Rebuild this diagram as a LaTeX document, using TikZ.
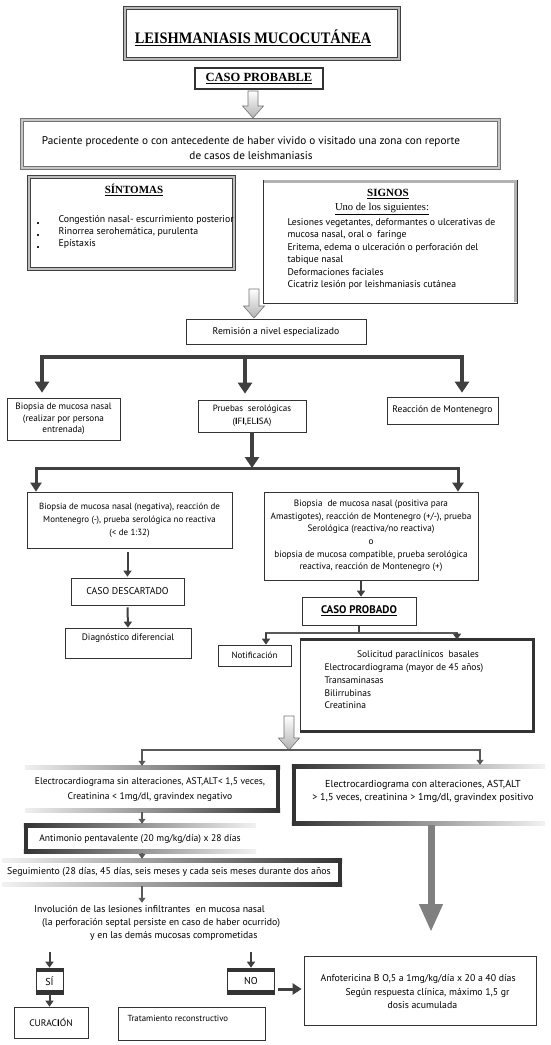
\documentclass[tikz,border=0pt]{standalone}
\usepackage{fontspec}
\usepackage{graphicx}
\setmainfont{PT Sans}
\newfontfamily\serifb{Liberation Serif}
\usetikzlibrary{arrows.meta,calc}
\newcommand\harrow[3]{\draw[hollow] ({#1-5},#2) -- ({#1+5},#2) -- ({#1+5},{#3-12}) -- ({#1+10.5},{#3-12}) -- (#1,#3) -- ({#1-10.5},{#3-12}) -- ({#1-5},{#3-12}) -- cycle;}
\begin{document}
\begin{tikzpicture}[x=1pt,y=-1pt,
 box/.style={draw=black!80, line width=0.7pt, inner sep=0pt, align=center},
 plain/.style={inner sep=0pt},
 bigarr/.style={draw=black!75, line width=3.5pt, -{Triangle[width=14pt,length=11pt]}},
 midarr/.style={draw=black!75, line width=3pt, -{Triangle[width=11pt,length=9pt]}},
 bar/.style={draw=black!75, line width=3.5pt, line cap=rect},
 bar2/.style={draw=black!75, line width=3pt, line cap=rect},
 medarr/.style={draw=black!75, line width=2pt, -{Triangle[width=8pt,length=6pt]}},
 thinbar/.style={draw=black!65, line width=1.6pt, line cap=rect},
 thinarr/.style={draw=black!65, line width=1.6pt, -{Triangle[width=7pt,length=5pt]}},
 hollow/.style={draw=black!55, line width=0.6pt, top color=white, bottom color=gray!60},
 dk/.style={fill=black!80},
]
\useasboundingbox[fill=white] (0,0) rectangle (551,1045);

% title
\node[draw=black!75, line width=1.2pt, double=gray!55, double distance=1.6pt, minimum width=274pt, minimum height=51pt, inner sep=0pt] (title) at (262,33.5) {};
\node[font=\serifb\bfseries\fontsize{16}{16}\selectfont] (titletxt) at (253,38) {\scalebox{0.9}[1]{\underline{LEISHMANIASIS MUCOCUTÁNEA}}};

\node[box, line width=1.8pt, minimum width=128pt, minimum height=21pt, font=\serifb\bfseries\fontsize{12.5}{13}\selectfont] (probable) at (259,78.5) {\underline{CASO PROBABLE}};
\harrow{253}{91}{118}

\node[draw=black!55, line width=0.8pt, double=gray!45, double distance=1.8pt, minimum width=477pt, minimum height=48pt, inner sep=0pt] (paciente) at (260.5,144) {};
\node[font=\fontsize{11.2}{15.5}\selectfont, align=center] (pactxt) at (251,148) {Paciente procedente o con antecedente de haber vivido o visitado una zona con reporte\\de casos de leishmaniasis};

% sintomas
\node[draw=black!75, line width=0.9pt, double=gray!50, double distance=1.4pt, minimum width=205pt, minimum height=92pt, inner sep=0pt] (sintomas) at (131.5,223) {};
\node[font=\serifb\bfseries\fontsize{11}{12}\selectfont] (sintit) at (134,190) {\underline{SÍNTOMAS}};
\node[font=\fontsize{9.8}{12}\selectfont, anchor=west, align=left] (sinitems) at (55,232) {Congestión nasal- escurrimiento posterior\\Rinorrea serohemática, purulenta\\Epístaxis};
\foreach \yy in {222,234,246} \fill[black!85] (37,\yy) rectangle (39,{\yy+2});

% signos
\node[box, minimum width=254pt, minimum height=123pt] (signos) at (390,241.5) {};
\draw[gray!60, line width=3pt] ([xshift=1pt,yshift=-2pt]signos.north west) -- ([xshift=-2pt,yshift=-2pt]signos.north east) -- ([xshift=-2pt,yshift=1pt]signos.south east);
\node[font=\serifb\bfseries\fontsize{11}{12}\selectfont] (sigtit) at (388,194) {\underline{SIGNOS}};
\node[font=\serifb\fontsize{10.6}{12}\selectfont] (siguno) at (382,209) {\underline{Uno de los siguientes:}};
\node[font=\fontsize{9.7}{12.4}\selectfont, anchor=west, align=left] (sigitems) at (284,254) {Lesiones vegetantes, deformantes o ulcerativas de\\mucosa nasal, oral o~ faringe\\Eritema, edema o ulceración o perforación del\\tabique nasal\\Deformaciones faciales\\Cicatriz lesión por leishmaniasis cutánea};

\harrow{254}{289}{318}
\node[box, minimum width=180pt, minimum height=25pt, font=\fontsize{9.7}{12}\selectfont] (remision) at (276,331.5) {Remisión a nivel especializado};

% first branching
\coordinate (b1L) at (42,357);
\coordinate (b1M) at (245,357);
\coordinate (b1R) at (462,357);
\draw[bar] (b1L) -- (b1R);

\node[box, minimum width=113pt, minimum height=42pt, font=\fontsize{9.2}{11.5}\selectfont] (biopsia) at (63.5,419) {Biopsia de mucosa nasal\\(realizar por persona\\entrenada)};
\node[box, minimum width=108pt, minimum height=32pt, font=\fontsize{9}{13}\selectfont] (pruebas) at (252,416) {Pruebas~ serológicas\\(\textbf{I}F\textbf{I},EL\textbf{I}SA)};
\node[box, minimum width=111pt, minimum height=27pt, font=\fontsize{9.5}{12}\selectfont] (reaccion) at (442.5,410.5) {Reacción de Montenegro};

\draw[bigarr] (b1L) -- ($(b1L |- biopsia.north)+(0,-5)$);
\draw[bigarr] (b1M) -- ($(b1M |- pruebas.north)+(0,-6)$);
\draw[bigarr] (b1R) -- ($(b1R |- reaccion.north)+(0,-4)$);

% second branching
\coordinate (b2M) at (252,468);
\coordinate (b2L) at (36,468);
\coordinate (b2R) at (458,468);
\draw[bigarr] (pruebas.south) -- (b2M);
\draw[bar2] (b2L) -- (b2R);

\node[box, minimum width=205pt, minimum height=56pt, font=\fontsize{8.9}{13}\selectfont] (neg) at (129.5,520) {Biopsia de mucosa nasal (negativa), reacción de\\Montenegro (-), prueba serológica no reactiva\\(< de 1:32)};
\node[box, minimum width=214pt, minimum height=88pt, font=\fontsize{9.2}{12.6}\selectfont] (pos) at (371,536) {Biopsia~ de mucosa nasal (positiva para\\Amastigotes), reacción de Montenegro (+/-), prueba\\Serológica (reactiva/no reactiva)\\o\\biopsia de mucosa compatible, prueba serológica\\reactiva, reacción de Montenegro (+)};
\draw[midarr] (b2L) -- (b2L |- neg.north);
\draw[midarr] (b2R) -- (b2R |- pos.north);

% negative branch
\node[box, minimum width=113pt, minimum height=27pt, font=\fontsize{9.8}{12}\selectfont] (descartado) at (127.5,591.5) {CASO DESCARTADO};
\node[box, minimum width=126pt, minimum height=30pt] (diag) at (128,643) {};
\node[font=\fontsize{9.4}{12}\selectfont] (diagtxt) at (128,638) {Diagnóstico diferencial};
\draw[medarr] ($(neg.south -| descartado.north)+(0,4)$) -- ($(descartado.north)+(0,-1)$);
\draw[medarr] ($(descartado.south)+(0,2)$) -- (diag.north);

% positive branch
\node[box, minimum width=114pt, minimum height=28pt, font=\bfseries\fontsize{11}{12}\selectfont] (probado) at (359,611) {\underline{CASO PROBADO}};
\draw[medarr] ($(pos.south -| probado.north)+(2,1)$) -- ($(probado.north)+(2,0)$);

\coordinate (b3L) at (266,633);
\coordinate (b3R) at (457,633);
\draw[draw=black!75, line width=1.6pt] (probado.south) -- (probado.south |- b3L);
\draw[thinbar] (b3L) -- (b3R);

\node[box, minimum width=73pt, minimum height=21pt, font=\fontsize{9}{12}\selectfont] (notif) at (254.5,655.5) {Notificación};
\node[box, minimum width=233pt, minimum height=91pt] (solic) at (416.5,685.5) {};
\draw[black!80, line width=2.5pt] (solic.north west) -- (solic.north east) -- (solic.south east) -- (solic.south west);
\node[font=\fontsize{9.5}{12}\selectfont] (soltit) at (418,655) {Solicitud paraclínicos~ basales};
\node[font=\fontsize{9.5}{12.6}\selectfont, anchor=west, align=left] (solitems) at (321,686.5) {Electrocardiograma (mayor de 45 años)\\Transaminasas\\Bilirrubinas\\Creatinina};
\draw[medarr] (b3L) -- (b3L |- notif.north);
\draw[medarr] (b3R) -- (b3R |- solic.north);

\harrow{289}{716}{750}

% third branching
\coordinate (c1L) at (142,750);
\coordinate (c1R) at (480,750);
\draw[thinbar] (c1L) -- (c1R);

\node[plain, minimum width=255pt, minimum height=46pt] (sin) at (152.5,789) {};
\fill[left color=gray!12, right color=black!80] (sin.north west) rectangle ($(sin.north east)+(0,4)$);
\fill[dk] ($(sin.north east)+(-4,0)$) rectangle (sin.south east);
\fill[left color=gray!12, right color=black!80] ($(sin.south west)+(0,-4)$) rectangle (sin.south east);
\node[font=\fontsize{9.6}{14.5}\selectfont, align=center] (sintxt) at (150,789.5) {Electrocardiograma sin alteraciones, AST,ALT< 1,5 veces,\\Creatinina < 1mg/dl, gravindex negativo};

\node[plain, minimum width=253pt, minimum height=60pt] (con) at (418.5,795) {};
\fill[dk] (con.north west) rectangle ($(con.south west)+(4,0)$);
\fill[left color=black!80, right color=gray!10] (con.north west) rectangle ($(con.north east)+(0,4)$);
\fill[left color=black!80, right color=gray!10] ($(con.south west)+(0,-4)$) rectangle (con.south east);
\node[font=\fontsize{10.1}{13.5}\selectfont, align=center] (context) at (423,791.5) {Electrocardiograma con alteraciones, AST,ALT\\> 1,5 veces, creatinina > 1mg/dl, gravindex positivo};

\draw[thinarr] (c1L) -- (c1L |- sin.north);
\draw[thinarr] (c1R) -- (c1R |- con.north);

\node[plain, minimum width=232pt, minimum height=29pt] (anti) at (140,838.5) {};
\fill[dk] (anti.north west) rectangle ($(anti.south west)+(4,0)$);
\fill[left color=black!80, right color=gray!10] (anti.north west) rectangle ($(anti.north east)+(0,4)$);
\fill[left color=black!80, right color=gray!10] ($(anti.south west)+(0,-4)$) rectangle (anti.south east);
\node[font=\fontsize{9.6}{12}\selectfont] (antitxt) at (140,839) {Antimonio pentavalente (20 mg/kg/día) x 28 días};

\node[plain, minimum width=340pt, minimum height=27pt] (seg) at (172,872.5) {};
\fill[left color=gray!10, right color=black!80] (seg.north west) rectangle ($(seg.north east)+(0,4)$);
\fill[dk] ($(seg.north east)+(-4,0)$) rectangle (seg.south east);
\fill[left color=gray!10, right color=black!80] ($(seg.south west)+(0,-4)$) rectangle (seg.south east);
\node[font=\fontsize{9.8}{12}\selectfont] (segtxt) at (169,872) {Seguimiento (28 días, 45 días, seis meses y cada seis meses durante dos años};

\draw[thinarr] (sin.south -| c1L) -- (anti.north -| c1L);
\draw[thinarr] (anti.south -| c1L) -- (seg.north -| c1L);

\node[font=\fontsize{9.8}{13}\selectfont, anchor=base west, inner sep=0pt] (invol) at (34,912) {Involución de las lesiones infiltrantes~ en mucosa nasal};
\node[font=\fontsize{9.8}{13}\selectfont, anchor=base west, inner sep=0pt] (invol2) at (42,925) {(la perforación septal persiste en caso de haber ocurrido)};
\node[font=\fontsize{9.8}{13}\selectfont, anchor=base west, inner sep=0pt] (invol3) at (90,938) {y en las demás mucosas comprometidas};
\draw[thinarr] (seg.south -| c1L) -- ($(invol.north -| c1L)+(0,-2)$);

% big grey arrow
\coordinate (bigtip) at (431,932);
\draw[draw=black!50, line width=7pt, -{Triangle[width=22pt,length=28pt]}] (con.south -| bigtip) -- (bigtip);

% SI / NO
\node[draw=black!80, line width=0.6pt, inner sep=0pt, minimum width=27pt, minimum height=26pt, font=\fontsize{10}{12}\selectfont] (si) at (49.5,981) {SÍ};
\fill[dk] (si.north west) rectangle ($(si.north east)+(0,4)$);
\fill[dk] ($(si.south west)+(0,-4)$) rectangle (si.south east);
\coordinate (sitop) at (49.5,952);
\draw[medarr] (sitop) -- (si.north);

\node[box, minimum width=74pt, minimum height=31pt, font=\fontsize{9.5}{12}\selectfont] (cur) at (51,1022.5) {CURAC\textbf{I}ÓN};
\draw[medarr] (si.south) -- (si.south |- cur.north);

\node[draw=black!80, line width=0.6pt, inner sep=0pt, minimum width=47pt, minimum height=26pt, font=\fontsize{10}{12}\selectfont] (no) at (251,981) {NO};
\fill[dk] (no.north west) rectangle ($(no.north east)+(0,4)$);
\fill[dk] ($(no.south west)+(0,-4)$) rectangle (no.south east);
\coordinate (notop) at (251,952);
\draw[medarr] (notop) -- (no.north);

\node[box, minimum width=147pt, minimum height=33pt] (trat) at (191.5,1023.5) {};
\node[font=\fontsize{8.8}{12}\selectfont, anchor=west] (trattxt) at (124,1018) {Tratamiento reconstructivo};

\node[box, minimum width=232pt, minimum height=69pt] (anfo) at (420,991) {};
\node[font=\fontsize{9.8}{13.5}\selectfont, anchor=west, align=left] (anfotxt) at (317,992) {Anfotericina B O,5 a 1mg/kg/día x 20 a 40 días\\\hspace*{25pt}Según respuesta clínica, máximo 1,5 gr\\\hspace*{67pt}dosis acumulada};
\draw[midarr] ($(no.east)+(3,8)$) -- ($(no.east -| anfo.west)+(-2,8)$);
\end{tikzpicture}
\end{document}
